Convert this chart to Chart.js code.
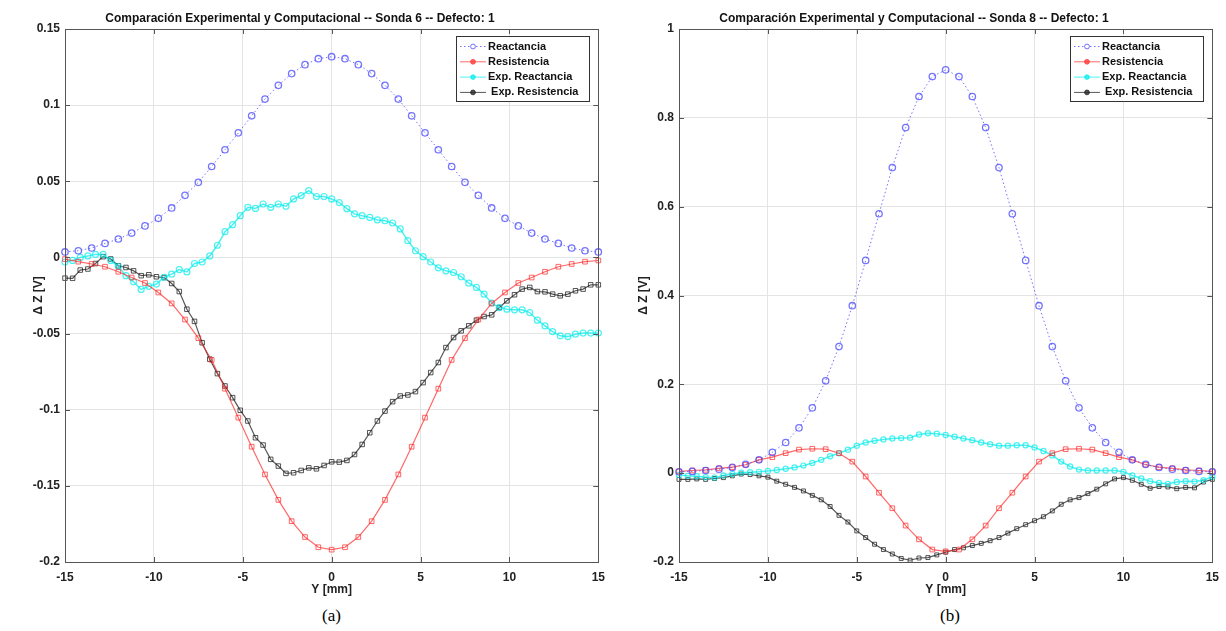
<!DOCTYPE html>
<html>
<head>
<meta charset="utf-8">
<script src="https://cdn.jsdelivr.net/npm/chart.js@4.4.1/dist/chart.umd.min.js"></script>
<style>
  body { margin: 0; background: #fff; width: 1226px; height: 631px; overflow: hidden; position: relative; }
  .box { position: absolute; top: 0; width: 613px; height: 600px; }
  #boxA { left: 0; }
  #boxB { left: 614px; }
  .cap { position: absolute; top: 606px; font-family: "Liberation Serif", "Times New Roman", serif; font-size: 17px; color: #000; }
</style>
</head>
<body>
<div class="box" id="boxA"><canvas id="chartA"></canvas></div>
<div class="box" id="boxB"><canvas id="chartB"></canvas></div>
<div class="cap" style="left:322px">(a)</div>
<div class="cap" style="left:940px">(b)</div>
<script>
/* ---- data ---- */
// simulation grid: -15..15 mm, 0.75 mm step (41 points)
var simX = [];
for (var i = 0; i < 41; i++) simX.push(-15 + 0.75 * i);
// experimental grid, probe 6: 71 points
var expXA = [];
for (var i = 0; i < 71; i++) expXA.push(-15 + 30 * i / 70);
// experimental grid, probe 8: 0.5 mm step (61 points)
var expXB = [];
for (var i = 0; i < 61; i++) expXB.push(-15 + 0.5 * i);

var reactA = [0.0036, 0.0044, 0.0062, 0.0092, 0.0121, 0.0160, 0.0207, 0.0257, 0.0325, 0.0408, 0.0493,
  0.0597, 0.0707, 0.0818, 0.0930, 0.1040, 0.1130, 0.1207, 0.1266, 0.1305, 0.1318, 0.1305, 0.1266,
  0.1207, 0.1130, 0.1040, 0.0930, 0.0818, 0.0707, 0.0597, 0.0493, 0.0408, 0.0325, 0.0257, 0.0207,
  0.0160, 0.0121, 0.0092, 0.0062, 0.0044, 0.0036];
var resistA = [-0.0011, -0.0028, -0.0043, -0.0061, -0.0094, -0.0132, -0.0168, -0.0230, -0.0302, -0.0408,
  -0.0530, -0.0673, -0.0862, -0.1052, -0.1243, -0.1425, -0.1592, -0.1732, -0.1836, -0.1903, -0.1919,
  -0.1903, -0.1836, -0.1732, -0.1592, -0.1425, -0.1243, -0.1052, -0.0862, -0.0673, -0.0530, -0.0408,
  -0.0302, -0.0230, -0.0168, -0.0132, -0.0094, -0.0061, -0.0043, -0.0028, -0.0020];
var expReactA = [-0.003, -0.002, 0.000, 0.001, 0.002, 0.002, -0.002, -0.006, -0.012, -0.016, -0.021,
  -0.019, -0.0175, -0.013, -0.011, -0.008, -0.0095, -0.004, -0.003, 0.001, 0.008, 0.0169, 0.0215,
  0.0274, 0.0329, 0.0322, 0.0351, 0.0329, 0.0351, 0.0336, 0.0384, 0.0406, 0.0439, 0.040, 0.040,
  0.0384, 0.036, 0.032, 0.0286, 0.0274, 0.0263, 0.0246, 0.0241, 0.0226, 0.0187, 0.011, 0.0044,
  0.0005, -0.003, -0.0068, -0.0088, -0.0099, -0.0127, -0.0169, -0.0197, -0.0241, -0.030, -0.0329,
  -0.034, -0.0344, -0.0344, -0.0362, -0.0412, -0.045, -0.0487, -0.0515, -0.052, -0.0504, -0.0497,
  -0.0497, -0.0497];
var expResistA = [-0.0136, -0.0137, -0.0083, -0.0076, -0.004, 0.0005, -0.001, -0.0055, -0.0066, -0.0088,
  -0.012, -0.0114, -0.0127, -0.0132, -0.0171, -0.0224, -0.034, -0.042, -0.056, -0.0668, -0.0763,
  -0.0844, -0.0921, -0.1004, -0.1074, -0.1184, -0.1232, -0.1326, -0.137, -0.1418, -0.1414, -0.1399,
  -0.1382, -0.1388, -0.1366, -0.1342, -0.1344, -0.1333, -0.1294, -0.1228, -0.1151, -0.1074, -0.1009,
  -0.0947, -0.091, -0.0903, -0.0881, -0.0822, -0.0756, -0.069, -0.0592, -0.0526, -0.0482, -0.0449,
  -0.0412, -0.0388, -0.0377, -0.0329, -0.0285, -0.0245, -0.0208, -0.0197, -0.0224, -0.0226, -0.0241,
  -0.0252, -0.0241, -0.0219, -0.0208, -0.018, -0.018];

var reactB = [0.003, 0.004, 0.006, 0.009, 0.013, 0.020, 0.030, 0.047, 0.069, 0.102, 0.147, 0.208, 0.285,
  0.377, 0.479, 0.584, 0.688, 0.778, 0.848, 0.893, 0.908, 0.893, 0.848, 0.778, 0.688, 0.584, 0.479,
  0.377, 0.285, 0.208, 0.147, 0.102, 0.069, 0.047, 0.030, 0.020, 0.013, 0.009, 0.006, 0.004, 0.003];
var resistB = [0.004, 0.006, 0.0075, 0.011, 0.0136, 0.019, 0.030, 0.036, 0.045, 0.053, 0.055, 0.054,
  0.045, 0.026, -0.0075, -0.044, -0.079, -0.118, -0.149, -0.172, -0.176, -0.172, -0.149, -0.118,
  -0.079, -0.044, -0.0075, 0.026, 0.045, 0.054, 0.055, 0.053, 0.045, 0.036, 0.030, 0.019, 0.0136,
  0.011, 0.0075, 0.006, 0.004];
var expReactB = [-0.004, -0.006, -0.007, -0.009, -0.010, -0.005, -0.002, 0.001, 0.002, 0.003, 0.005,
  0.007, 0.010, 0.013, 0.017, 0.023, 0.030, 0.038, 0.045, 0.053, 0.062, 0.069, 0.073, 0.076, 0.078,
  0.079, 0.080, 0.087, 0.090, 0.089, 0.086, 0.082, 0.078, 0.074, 0.069, 0.065, 0.062, 0.062, 0.063,
  0.063, 0.058, 0.050, 0.040, 0.026, 0.015, 0.008, 0.006, 0.006, 0.006, 0.006, 0.003, -0.005, -0.012,
  -0.018, -0.022, -0.024, -0.020, -0.018, -0.019, -0.016, -0.008];
var expResistB = [-0.014, -0.014, -0.013, -0.014, -0.012, -0.010, -0.006, -0.002, -0.003, -0.006, -0.009,
  -0.018, -0.025, -0.032, -0.040, -0.050, -0.060, -0.075, -0.095, -0.110, -0.130, -0.145, -0.160,
  -0.172, -0.182, -0.192, -0.196, -0.191, -0.190, -0.184, -0.178, -0.172, -0.168, -0.163, -0.158,
  -0.152, -0.145, -0.135, -0.125, -0.116, -0.107, -0.098, -0.085, -0.070, -0.060, -0.055, -0.046,
  -0.036, -0.024, -0.013, -0.010, -0.016, -0.025, -0.034, -0.030, -0.031, -0.035, -0.032, -0.033,
  -0.020, -0.014];

var xTicks = [-15, -10, -5, 0, 5, 10, 15];

/* ---- styling ---- */
var FONT = '"Liberation Sans", Arial, Helvetica, sans-serif';
var C_BLUE = 'rgba(70,70,255,0.75)';
var C_RED = 'rgba(255,40,40,0.7)';
var C_CYAN = 'rgba(0,235,235,0.7)';
var C_BLACK = 'rgba(30,30,30,0.75)';

function pts(xs, ys) {
  var out = [];
  for (var i = 0; i < ys.length; i++) out.push({ x: xs[i], y: ys[i] });
  return out;
}

/* --- MATLAB style axes box with inward ticks --- */
var frame = {
  id: 'frame',
  afterDatasetsDraw: function(chart) {
    var ctx = chart.ctx, a = chart.chartArea;
    var xs = chart.scales.x, ys = chart.scales.y;
    ctx.save();
    ctx.strokeStyle = '#555';
    ctx.lineWidth = 1;
    ctx.strokeRect(Math.round(a.left) + 0.5, Math.round(a.top) + 0.5, Math.round(a.width), Math.round(a.height));
    ctx.beginPath();
    xs.ticks.forEach(function(t) {
      var p = Math.round(xs.getPixelForValue(t.value)) + 0.5;
      ctx.moveTo(p, a.bottom); ctx.lineTo(p, a.bottom - 5);
      ctx.moveTo(p, a.top); ctx.lineTo(p, a.top + 5);
    });
    ys.ticks.forEach(function(t) {
      var p = Math.round(ys.getPixelForValue(t.value)) + 0.5;
      ctx.moveTo(a.left, p); ctx.lineTo(a.left + 5, p);
      ctx.moveTo(a.right, p); ctx.lineTo(a.right - 5, p);
    });
    ctx.stroke();
    ctx.restore();
  }
};

/* --- legend box inside the axes, top right --- */
var legendBox = {
  id: 'legendBox',
  afterDatasetsDraw: function(chart) {
    var ctx = chart.ctx, a = chart.chartArea;
    var w = 133, h = 65;
    var x0 = Math.round(a.right - 9 - w), y0 = Math.round(a.top + 7);
    ctx.save();
    ctx.fillStyle = '#fff';
    ctx.fillRect(x0, y0, w, h);
    ctx.strokeStyle = '#333';
    ctx.lineWidth = 1;
    ctx.strokeRect(x0 + 0.5, y0 + 0.5, w, h);
    ctx.font = 'bold 11px ' + FONT;
    ctx.textBaseline = 'middle';
    var dss = chart.data.datasets;
    for (var i = 0; i < dss.length; i++) {
      var ds = dss[i];
      var y = y0 + 10.5 + i * 15.3;
      ctx.strokeStyle = ds.borderColor;
      ctx.lineWidth = 1;
      ctx.setLineDash(ds.borderDash || []);
      ctx.beginPath(); ctx.moveTo(x0 + 4, y); ctx.lineTo(x0 + 30, y); ctx.stroke();
      ctx.setLineDash([]);
      ctx.fillStyle = i === 0 ? '#fff' : ds.borderColor;
      ctx.beginPath(); ctx.arc(x0 + 17, y, 2.4, 0, Math.PI * 2); ctx.fill(); ctx.stroke();
      ctx.fillStyle = '#111';
      ctx.fillText(ds.legendText, x0 + 32, y);
    }
    ctx.restore();
  }
};

function makeChart(id, title, yMin, yMax, yStep, yTitlePad, expR, sets) {
  var datasets = [
    { label: 'Reactancia', legendText: 'Reactancia', data: sets[0], borderColor: C_BLUE, borderWidth: 1,
      borderDash: [1.5, 2.5], pointStyle: 'circle', pointRadius: 3.2, pointBorderWidth: 1.3,
      pointBackgroundColor: 'rgba(0,0,0,0)', pointBorderColor: C_BLUE },
    { label: 'Resistencia', legendText: 'Resistencia', data: sets[1], borderColor: C_RED, borderWidth: 1.2,
      pointStyle: 'rect', pointRadius: 3.3, pointBorderWidth: 1,
      pointBackgroundColor: 'rgba(0,0,0,0)', pointBorderColor: C_RED },
    { label: 'Exp. Reactancia', legendText: 'Exp. Reactancia', data: sets[2], borderColor: C_CYAN, borderWidth: 1.5,
      pointStyle: 'circle', pointRadius: expR, pointBorderWidth: 1.2,
      pointBackgroundColor: 'rgba(0,0,0,0)', pointBorderColor: C_CYAN },
    { label: 'Exp. Resistencia', legendText: ' Exp. Resistencia', data: sets[3], borderColor: C_BLACK, borderWidth: 1.2,
      pointStyle: 'rect', pointRadius: expR + 0.2, pointBorderWidth: 1,
      pointBackgroundColor: 'rgba(0,0,0,0)', pointBorderColor: C_BLACK }
  ];
  for (var i = 0; i < datasets.length; i++) {
    datasets[i].fill = false;
    datasets[i].tension = 0;
    datasets[i].clip = false;
  }

  return new Chart(document.getElementById(id), {
    type: 'line',
    data: { datasets: datasets },
    options: {
      responsive: true,
      maintainAspectRatio: false,
      animation: false,
      layout: { padding: { left: 0, right: 13, top: 0, bottom: 0 } },
      plugins: {
        legend: { display: false },
        tooltip: { enabled: false },
        title: {
          display: true, text: title, color: '#111',
          font: { family: FONT, size: 12, weight: 'bold' },
          padding: { top: 11.5, bottom: 3.1 }
        }
      },
      scales: {
        x: {
          type: 'linear', min: -15, max: 15,
          afterBuildTicks: function(s) { s.ticks = xTicks.map(function(v) { return { value: v }; }); },
          afterFit: function(s) { s.height = 38; },
          grid: { color: '#e4e4e4', drawTicks: false },
          border: { display: false },
          ticks: { color: '#222', padding: 8, font: { family: FONT, size: 12, weight: 'bold' } },
          title: { display: true, text: 'Y [mm]', color: '#222', padding: { top: 0, bottom: 3 },
            font: { family: FONT, size: 12, weight: 'bold' } }
        },
        y: {
          type: 'linear', min: yMin, max: yMax,
          afterFit: function(s) { s.width = 65; },
          grid: { color: '#e4e4e4', drawTicks: false },
          border: { display: false },
          ticks: { stepSize: yStep, color: '#222', padding: 5,
            font: { family: FONT, size: 12, weight: 'bold' },
            callback: function(v) { return String(Math.round(v * 100) / 100); } },
          title: { display: true, text: '\u0394 Z [V]', color: '#222', padding: { top: yTitlePad, bottom: 0 },
            font: { family: FONT, size: 12, weight: 'bold' } }
        }
      }
    },
    plugins: [frame, legendBox]
  });
}

makeChart('chartA', 'Comparaci\u00f3n Experimental y Computacional -- Sonda 6 -- Defecto: 1', -0.2, 0.15, 0.05, 31, 3, [
  pts(simX, reactA), pts(simX, resistA), pts(expXA, expReactA), pts(expXA, expResistA)
]);
makeChart('chartB', 'Comparaci\u00f3n Experimental y Computacional -- Sonda 8 -- Defecto: 1', -0.2, 1, 0.2, 22, 2.6, [
  pts(simX, reactB), pts(simX, resistB), pts(expXB, expReactB), pts(expXB, expResistB)
]);
</script>
</body>
</html>
